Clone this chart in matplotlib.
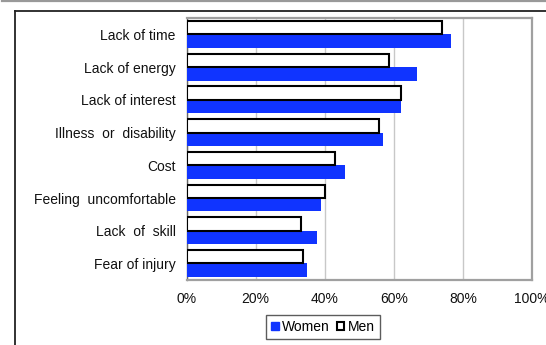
import numpy as np
import matplotlib
matplotlib.use("Agg")
import matplotlib.pyplot as plt
from matplotlib.patches import Patch
from matplotlib.lines import Line2D

plt.rcParams['font.family'] = ['Liberation Sans', 'DejaVu Sans']

# Reasons for not taking part, share of respondents
reasons = ["Lack of time", "Lack of energy", "Lack of interest",
           "Illness  or  disability", "Cost", "Feeling  uncomfortable",
           "Lack  of  skill", "Fear of injury"]
women = [76.5, 66.7, 62.0, 56.8, 45.8, 38.8, 37.7, 34.8]
men = [73.8, 58.7, 62.2, 55.8, 43.1, 40.2, 33.2, 33.8]
xticks = [0, 20, 40, 60, 80, 100]

blue = "#1034ff"

fig = plt.figure(figsize=(5.46, 3.45), dpi=100)
ax = fig.add_axes([0.3418, 0.189, 0.6326, 0.7585])

y = np.arange(len(reasons))
h = 0.41
ax.barh(y + h / 2, women, height=h, color=blue, zorder=3, label="Women")
ax.barh(y - h / 2, men, height=h, color="white", edgecolor="black",
        linewidth=1.5, zorder=3, label="Men")

ax.set_xlim(0, 100)
ax.set_ylim(len(reasons) - 0.5, -0.5)
ax.set_xticks(xticks)
ax.set_xticklabels([f"{v}%" for v in xticks], fontsize=10, color="#111")
ax.set_yticks(y)
ax.set_yticklabels(reasons, fontsize=10, color="#111")
ax.tick_params(axis="x", length=0, pad=9)
ax.tick_params(axis="y", length=0, pad=8)
ax.grid(axis="x", color="#c8c8c8", linewidth=1, zorder=0)

for side in ["top", "right", "bottom"]:
    ax.spines[side].set_color("#a0a0a0")
    ax.spines[side].set_linewidth(1.6)
ax.spines["left"].set_color("#666")
ax.spines["left"].set_linewidth(1)

# outer frame and grey band along the top
W, H = 546, 345
fig.add_artist(Line2D([2 / W, 1], [1 - 1 / H, 1 - 1 / H], color="#999999",
                      linewidth=1.6))
fig.add_artist(Line2D([14.6 / W, 1], [1 - 10.8 / H, 1 - 10.8 / H],
                      color="#222222", linewidth=1.3))
fig.add_artist(Line2D([14.6 / W, 14.6 / W], [0, 1 - 10.8 / H],
                      color="#222222", linewidth=1.3))

handles = [Patch(facecolor=blue, edgecolor=blue, label="Women"),
           Patch(facecolor="white", edgecolor="black", linewidth=1.5, label="Men")]
leg = fig.legend(handles=handles, loc="center", bbox_to_anchor=(0.5916, 0.052),
                 ncol=2, fontsize=10, frameon=True, fancybox=False,
                 handlelength=0.55, handleheight=0.55, handletextpad=0.25,
                 columnspacing=0.5, borderpad=0.35, borderaxespad=0)
leg.get_frame().set_edgecolor("#333333")
leg.get_frame().set_linewidth(1)

fig.savefig("out.png", dpi=100)
